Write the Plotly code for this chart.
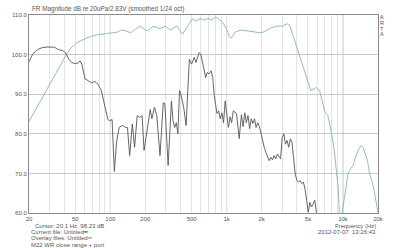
import plotly.graph_objects as go

# ---- data ----
dark_freq = [20.0, 21.6, 23.8, 26.2, 28.9, 32.9, 36.2, 38.6, 41.2, 44.0,
             46.9, 49.9, 52.1, 55.0, 56.9, 58.8, 60.6, 64.7, 69.0, 73.6,
             78.5, 83.7, 86.5, 92.2, 95.3, 98.3, 103.6, 108.3, 113.5, 119.3,
             127.5, 135.8, 140.4, 146.7, 154.6, 161.7, 170.3, 179.1, 187.6, 195.0,
             206.7, 220.3, 227.6, 239.4, 250.8, 267.4, 285.1, 294.4, 314.0, 335.4,
             345.8, 357.4, 369.4, 380.9, 393.6, 406.8, 427.8, 448.2, 477.9, 499.6,
             526.5, 544.0, 579.8, 599.2, 638.6, 660.0, 680.6, 703.4, 735.4, 760.0,
             782.4, 805.4, 826.0, 853.6, 882.2, 910, 940.4, 971.8, 1002, 1036,
             1071, 1104, 1141, 1216, 1282, 1340, 1385, 1431, 1476, 1526,
             1576, 1626, 1681, 1737, 1791, 1851, 1913, 1973, 2039, 2107,
             2174, 2246, 2321, 2394, 2474, 2557, 2638, 2726, 2816, 2906,
             3004, 3104, 3202, 3308, 3418, 3526, 3644, 3766, 3884, 4013,
             4148, 4278, 4421, 4570, 4714, 4871, 5035, 5193, 5366, 5545,
             5720, 5911, 6100, 8000, 20000]
dark_db = [98.2, 100.2, 101.3, 101.8, 101.9, 101.9, 101.2, 101.1, 100.5, 98.8,
           98.0, 97.7, 97.8, 98.4, 97.6, 95.1, 93.9, 93.4, 92.9, 93.2,
           92.5, 90.9, 88.9, 85.3, 83.6, 83.3, 83.6, 70.5, 78.3, 81.6,
           82.1, 81.6, 81.6, 74.5, 82.5, 76.6, 84.6, 84.1, 84.6, 75.8,
           80.4, 86.1, 83.8, 86.7, 84.6, 74.5, 87.8, 87.6, 72.0, 88.3,
           83.3, 81.6, 82.8, 80.0, 90.9, 89.6, 86.6, 82.1, 98.8, 97.6,
           99.3, 98.0, 100.5, 100.1, 96.3, 94.2, 95.5, 95.1, 95.9, 94.2,
           89.6, 86.3, 85.1, 85.8, 83.8, 85.3, 82.8, 88.3, 84.6, 81.6,
           84.3, 82.8, 85.8, 85.1, 78.8, 84.8, 81.8, 85.3, 82.8, 84.6,
           81.3, 83.8, 82.6, 83.8, 81.6, 82.8, 81.8, 80.0, 78.8, 76.5,
           75.3, 74.2, 73.2, 74.1, 73.4, 74.5, 73.7, 74.9, 74.1, 73.7,
           79.1, 80.0, 77.4, 78.3, 76.6, 78.7, 77.9, 74.1, 69.9, 68.2,
           67.8, 68.2, 67.4, 67.8, 66.1, 63.2, 60.2, 62.7, 61.5, 62.3,
           63.2, 60.2, 55.0, 50.0, 50.0]

teal_freq = [20, 41.7, 45.9, 51.6, 62.6, 76.0, 92.3, 105.6, 116.4, 123.3,
             135.8, 149.6, 164.9, 181.6, 200, 211.9, 229, 242.7, 267.3, 294.4,
             330.8, 371.6, 417.2, 451, 487, 506, 547, 591, 639, 690,
             745, 806, 853, 922, 997, 1056, 1098, 1186, 1332, 1526,
             1746, 1962, 2119, 2380, 2724, 3003, 3308, 3506, 3766, 4014,
             4370, 5035, 5300, 5910, 6301, 6942, 7410, 7906, 8425, 8702,
             9100, 9313, 9588, 9910, 10220, 10560, 11040, 11640, 12260, 12820,
             13660, 14310, 14870, 15550, 16260, 16900, 17710, 18510, 19500, 20000]
teal_db = [83.1, 99.9, 101.7, 103.0, 104.2, 105.0, 105.3, 105.5, 105.7, 106.2,
           106.0, 105.5, 106.5, 107.2, 106.2, 106.0, 107.0, 107.1, 106.5, 107.2,
           106.2, 107.2, 105.2, 106.7, 108.5, 109.0, 108.5, 109.1, 108.7, 109.2,
           108.7, 109.5, 109.0, 108.2, 106.5, 104.5, 104.2, 105.7, 106.2, 106.0,
           105.7, 105.5, 105.8, 106.7, 107.2, 107.2, 107.8, 107.2, 104.3, 101.8,
           98.4, 93.0, 90.9, 91.7, 90.9, 85.8, 84.6, 80.8, 75.8, 71.6,
           66.5, 60.1, 50.0, 60.7, 63.2, 66.5, 69.9, 71.2, 72.0, 74.1,
           76.2, 77.0, 76.6, 74.9, 73.2, 69.9, 68.2, 65.7, 62.3, 60.2]

assert len(dark_freq) == len(dark_db)
assert len(teal_freq) == len(teal_db)

x_label_vals = [20, 50, 100, 200, 500, 1000, 2000, 5000, 10000, 20000]
x_label_text = ["20", "50", "100", "200", "500", "1k", "2k", "5k", "10k", "20k"]
x_grid_vals = [m * d for d in (10, 100, 1000, 10000) for m in range(1, 10) if 20 <= m * d <= 20000]
decade_lines = [100, 1000, 10000]
y_ticks = [60, 70, 80, 90, 100, 110]
y_text = ["60.0", "70.0", "80.0", "90.0", "100.0", "110.0"]

FONT = "Liberation Sans, Arial, sans-serif"
TXT = "#555555"
DARK = "#555555"
TEAL = "#86b6b6"

fig = go.Figure()
fig.add_trace(go.Scatter(x=teal_freq, y=teal_db, mode="lines",
                         line=dict(color=TEAL, width=0.9), hoverinfo="skip"))
fig.add_trace(go.Scatter(x=dark_freq, y=dark_db, mode="lines",
                         line=dict(color=DARK, width=0.9), hoverinfo="skip"))

shapes = []
for d in decade_lines:
    shapes.append(dict(type="line", xref="x", yref="paper", x0=d, x1=d, y0=0, y1=1,
                       line=dict(color="#c0c0c0", width=1), layer="below"))
fig.update_layout(shapes=shapes)

fig.update_layout(
    width=400, height=248,
    margin=dict(l=21, r=22, t=14, b=35, pad=0),
    paper_bgcolor="white", plot_bgcolor="white",
    showlegend=False,
    font=dict(family=FONT, size=6, color=TXT),
    xaxis=dict(type="log", range=[1.30103, 4.30103],
               tickmode="array", tickvals=x_grid_vals,
               ticktext=[x_label_text[x_label_vals.index(v)] if v in x_label_vals else "" for v in x_grid_vals],
               showgrid=True, gridcolor="#e4e4e4", gridwidth=1,
               showline=True, linecolor="#8a8a8a", linewidth=1, mirror=True,
               ticks="", zeroline=False,
               tickfont=dict(family=FONT, size=6, color=TXT)),
    yaxis=dict(range=[60, 110], tickmode="array", tickvals=y_ticks, ticktext=y_text,
               showgrid=True, gridcolor="#c8c8c8", gridwidth=1,
               showline=True, linecolor="#8a8a8a", linewidth=1, mirror=True,
               ticks="", zeroline=False,
               tickfont=dict(family=FONT, size=6, color=TXT)),
)

def px_x(p):
    return (p - 21) / 357.0

def px_y(p):
    return (212.6 - p) / 198.6

ann = []
ann.append(dict(text="FR Magnitude dB re 20uPa/2.83V (smoothed 1/24 oct)", x=px_x(22), y=px_y(8),
                xanchor="left", yanchor="middle", font=dict(size=6.3)))
for i, ch in enumerate("ARTA"):
    ann.append(dict(text=ch, x=px_x(382), y=px_y(16.5 + i * 5.6), xanchor="center",
                    yanchor="middle", font=dict(size=5.5)))
ann.append(dict(text="Cursor: 20.1 Hz, 98.23 dB", x=px_x(25), y=px_y(225.5),
                xanchor="left", yanchor="middle"))
ann.append(dict(text="Current file: Untitled<span style='color:#333333'>━</span>", x=px_x(21.5), y=px_y(231.5),
                xanchor="left", yanchor="middle"))
ann.append(dict(text="Overlay files: Untitled<span style='color:#5a9a9a'>━</span>", x=px_x(21.5), y=px_y(238),
                xanchor="left", yanchor="middle"))
ann.append(dict(text="M22 WR close range + port", x=px_x(21), y=px_y(244.3),
                xanchor="left", yanchor="middle"))
ann.append(dict(text="Frequency (Hz)", x=px_x(378), y=px_y(225.5),
                xanchor="right", yanchor="middle"))
ann.append(dict(text="2012-07-07  13:26:43", x=px_x(378), y=px_y(231.5),
                xanchor="right", yanchor="middle"))
for a in ann:
    a.update(xref="paper", yref="paper", showarrow=False)
fig.update_layout(annotations=ann)

fig.write_html("out.html")
